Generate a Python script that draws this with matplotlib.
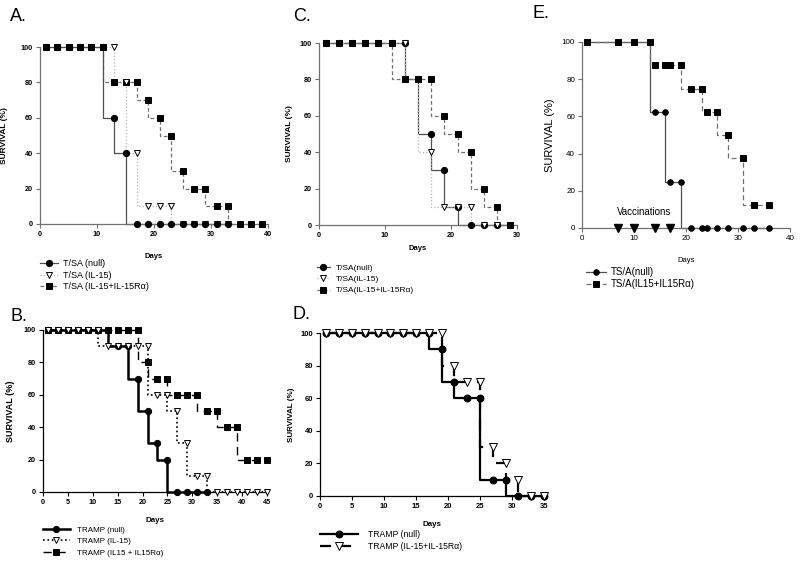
import matplotlib
matplotlib.use('Agg')
import matplotlib.pyplot as plt
from matplotlib.lines import Line2D

plt.rcParams['font.family'] = ['Liberation Sans', 'DejaVu Sans']

# ---------------- DATA ----------------
# Panel A
A_null_days = [1, 3, 5, 7, 9, 11, 13, 15, 17, 19, 21, 23, 25, 27, 29, 31, 33]
A_null_surv = [100, 100, 100, 100, 100, 100, 60, 40, 0, 0, 0, 0, 0, 0, 0, 0, 0]
A_il15_days = [1, 3, 5, 7, 9, 11, 13, 15, 17, 19, 21, 23, 25, 27, 29, 31, 33]
A_il15_surv = [100, 100, 100, 100, 100, 100, 100, 80, 40, 10, 10, 10, 0, 0, 0, 0, 0]
A_combo_days = [1, 3, 5, 7, 9, 11, 13, 15, 17, 19, 21, 23, 25, 27, 29, 31, 33, 35, 37, 39]
A_combo_surv = [100, 100, 100, 100, 100, 100, 80, 80, 80, 70, 60, 50, 30, 20, 20, 10, 10, 0, 0, 0]
A_labels = ['T/SA (null)', 'T/SA (IL-15)', 'T/SA (IL-15+IL-15Rα)']

# Panel B
B_null_days = [1, 3, 5, 7, 9, 11, 13, 15, 17, 19, 21, 23, 25, 27, 29, 31, 33]
B_null_surv = [100, 100, 100, 100, 100, 100, 100, 90, 90, 70, 50, 30, 20, 0, 0, 0, 0]
B_il15_days = [1, 3, 5, 7, 9, 11, 13, 15, 17, 19, 21, 23, 25, 27, 29, 31, 33, 35, 37, 39, 41, 43, 45]
B_il15_surv = [100, 100, 100, 100, 100, 100, 90, 90, 90, 90, 90, 60, 60, 50, 30, 10, 10, 0, 0, 0, 0, 0, 0]
B_combo_days = [1, 3, 5, 7, 9, 11, 13, 15, 17, 19, 21, 23, 25, 27, 29, 31, 33, 35, 37, 39, 41, 43, 45]
B_combo_surv = [100, 100, 100, 100, 100, 100, 100, 100, 100, 100, 80, 70, 70, 60, 60, 60, 50, 50, 40, 40, 20, 20, 20]
B_labels = ['TRAMP (null)', 'TRAMP (IL-15)', 'TRAMP (IL15 + IL15Rα)']

# Panel C
C_null_days = [1, 3, 5, 7, 9, 11, 13, 15, 17, 19, 21, 23, 25, 27, 29]
C_null_surv = [100, 100, 100, 100, 100, 100, 100, 80, 50, 30, 10, 0, 0, 0, 0]
C_il15_days = [1, 3, 5, 7, 9, 11, 13, 15, 17, 19, 21, 23, 25, 27]
C_il15_surv = [100, 100, 100, 100, 100, 100, 100, 80, 40, 10, 10, 10, 0, 0]
C_combo_days = [1, 3, 5, 7, 9, 11, 13, 15, 17, 19, 21, 23, 25, 27, 29]
C_combo_surv = [100, 100, 100, 100, 100, 100, 80, 80, 80, 60, 50, 40, 20, 10, 0]
C_labels = ['T/SA(null)', 'T/SA(IL-15)', 'T/SA(IL-15+IL-15Rα)']

# Panel D
D_null_days = [1, 3, 5, 7, 9, 11, 13, 15, 17, 19, 21, 23, 25, 27, 29, 31, 33, 35]
D_null_surv = [100, 100, 100, 100, 100, 100, 100, 100, 100, 90, 70, 60, 60, 10, 10, 0, 0, 0]
D_combo_days = [1, 3, 5, 7, 9, 11, 13, 15, 17, 19, 21, 23, 25, 27, 29, 31, 33, 35]
D_combo_surv = [100, 100, 100, 100, 100, 100, 100, 100, 100, 100, 80, 70, 70, 30, 20, 10, 0, 0]
D_labels = ['TRAMP (null)', 'TRAMP (IL-15+IL-15Rα)']

# Panel E
E_days = [1, 7, 10, 13, 14, 16, 17, 19, 21, 23, 24, 26, 28, 31, 33, 36]
E_null_surv = [100, 100, 100, 100, 62.5, 62.5, 25, 25, 0, 0, 0, 0, 0, 0, 0, 0]
E_combo_surv = [100, 100, 100, 100, 87.5, 87.5, 87.5, 87.5, 75, 75, 62.5, 62.5, 50, 37.5, 12.5, 12.5]
E_vacc_days = [7, 10, 14, 17]
E_labels = ['TS/A(null)', 'TS/A(IL15+IL15Rα)']

# ---------------- FIGURE ----------------
W, H = 800, 565
fig = plt.figure(figsize=(W / 100, H / 100), dpi=100)


def axes_px(l, r, t, b):
    return fig.add_axes([l / W, 1 - b / H, (r - l) / W, (b - t) / H])


def style_axes(ax, xmax, xstep, spine_col, tick_size, bold, ylab_x, xlab_y,
               ylab_size, xlab_size, ylab_bold, xlab_bold):
    ax.set_xlim(0, xmax)
    ax.set_ylim(0, 100)
    ax.set_xticks(range(0, xmax + 1, xstep))
    ax.set_yticks(range(0, 101, 20))
    for s in ['top', 'right']:
        ax.spines[s].set_visible(False)
    for s in ['left', 'bottom']:
        ax.spines[s].set_color(spine_col)
        ax.spines[s].set_linewidth(0.9)
    ax.tick_params(direction='out', length=3, width=0.8, color=spine_col,
                   labelsize=tick_size, pad=2)
    for lab in ax.get_xticklabels() + ax.get_yticklabels():
        lab.set_fontweight('bold' if bold else 'normal')
    ax.set_ylabel('SURVIVAL (%)', fontsize=ylab_size,
                  fontweight='bold' if ylab_bold else 'normal')
    ax.set_xlabel('Days', fontsize=xlab_size,
                  fontweight='bold' if xlab_bold else 'normal')
    ax.yaxis.set_label_coords(ylab_x, 0.5)
    ax.xaxis.set_label_coords(0.5, xlab_y)
    ax.patch.set_alpha(0)


def curve(ax, days, surv, marker, mfc, ls, lc, lw, ms, z, dashes=None):
    kw = dict(drawstyle='steps-pre', color=lc, lw=lw, ls=ls, zorder=2, clip_on=False)
    ln, = ax.plot(days, surv, **kw)
    if dashes is not None:
        ln.set_dashes(dashes)
    ax.plot(days, surv, ls='none', marker=marker, ms=ms, mfc=mfc, mec='black',
            mew=0.7, zorder=z, clip_on=False)
    h = Line2D([], [], color=lc, lw=lw, ls=ls, marker=marker, ms=ms, mfc=mfc,
               mec='black', mew=0.7)
    if dashes is not None:
        h.set_dashes(dashes)
    return h


def legend_px(handles, labels, x, y, fs, hl, htp, ls):
    fig.legend(handles, labels, loc='upper left',
               bbox_to_anchor=(x / W, 1 - y / H), bbox_transform=fig.transFigure,
               frameon=False, fontsize=fs, handlelength=hl, handletextpad=htp,
               labelspacing=ls, borderpad=0, borderaxespad=0, numpoints=1)


# ----- Panel A -----
axA = axes_px(40, 268, 47, 224)
hA3 = curve(axA, A_combo_days, A_combo_surv, 's', 'black', '--', '#707070', 0.9, 4.5, 3, dashes=(3, 2))
hA2 = curve(axA, A_il15_days, A_il15_surv, 'v', 'white', ':', '#b5b5b5', 0.9, 5, 4)
hA1 = curve(axA, A_null_days, A_null_surv, 'o', 'black', '-', '#505050', 0.9, 4.5, 5)
style_axes(axA, 40, 10, '#707070', 5.2, True, -0.14, -0.163, 6, 5.5, True, True)
legend_px([hA1, hA2, hA3], A_labels, 40, 259, 6.5, 2.0, 0.55, 0.3)
fig.text(10 / W, 1 - 21 / H, 'A.', fontsize=13)

# ----- Panel C -----
axC = axes_px(319, 517, 43, 225)
hC1 = curve(axC, C_null_days, C_null_surv, 'o', 'black', '-', '#505050', 0.9, 4.5, 3)
hC2 = curve(axC, C_il15_days, C_il15_surv, 'v', 'white', ':', '#b5b5b5', 0.9, 5, 4)
hC3 = curve(axC, C_combo_days, C_combo_surv, 's', 'black', '--', '#707070', 0.9, 4.5, 5, dashes=(3, 2))
style_axes(axC, 30, 10, '#707070', 5.2, True, -0.13, -0.11, 6, 5.5, True, True)
legend_px([hC1, hC2, hC3], C_labels, 317, 264, 6, 1.5, 0.8, 0.42)
fig.text(293 / W, 1 - 21 / H, 'C.', fontsize=13)

# ----- Panel E -----
axE = axes_px(582, 790, 42, 228)
hE1 = curve(axE, E_days, E_null_surv, 'o', 'black', '-', '#505050', 0.9, 4, 3)
hE2 = curve(axE, E_days, E_combo_surv, 's', 'black', '--', '#707070', 0.9, 4, 4, dashes=(4, 2.5))
axE.plot(E_vacc_days, [0] * len(E_vacc_days), ls='none', marker='v', ms=5.5,
         mfc='black', mec='black', zorder=6, clip_on=False)
axE.text(12, 6, 'Vaccinations', fontsize=7, ha='center', va='bottom')
style_axes(axE, 40, 10, '#707070', 5.8, False, -0.13, -0.156, 8, 5.5, False, False)
legend_px([hE1, hE2], E_labels, 586, 267, 7, 2.1, 0.4, 0.2)
fig.text(533 / W, 1 - 18 / H, 'E.', fontsize=13)

# ----- Panel B -----
axB = axes_px(43, 267, 330, 492)
hB1 = curve(axB, B_null_days, B_null_surv, 'o', 'black', '-', 'black', 1.8, 4.5, 3)
hB3 = curve(axB, B_combo_days, B_combo_surv, 's', 'black', '--', 'black', 1.0, 4.5, 4, dashes=(6, 4))
hB2 = curve(axB, B_il15_days, B_il15_surv, 'v', 'white', ':', 'black', 1.2, 5, 5)
style_axes(axB, 45, 5, 'black', 5.2, True, -0.125, -0.154, 6.5, 5.7, True, True)
legend_px([hB1, hB2, hB3], B_labels, 43, 526, 5.8, 3.3, 0.9, 0.5)
fig.text(10 / W, 1 - 321 / H, 'B.', fontsize=13)

# ----- Panel D -----
axD = axes_px(320, 544, 333, 496)
hD1 = curve(axD, D_null_days, D_null_surv, 'o', 'black', '-', 'black', 1.6, 5, 3)
hD2 = curve(axD, D_combo_days, D_combo_surv, 'v', 'white', '--', 'black', 1.6, 5.5, 4, dashes=(5, 4))
style_axes(axD, 35, 5, 'black', 5.5, True, -0.11, -0.153, 5.8, 5.7, True, True)
legend_px([hD1, hD2], D_labels, 320, 530, 6.2, 4.4, 1.2, 0.3)
fig.text(293 / W, 1 - 319 / H, 'D.', fontsize=13)

fig.savefig('out.png', dpi=100)
